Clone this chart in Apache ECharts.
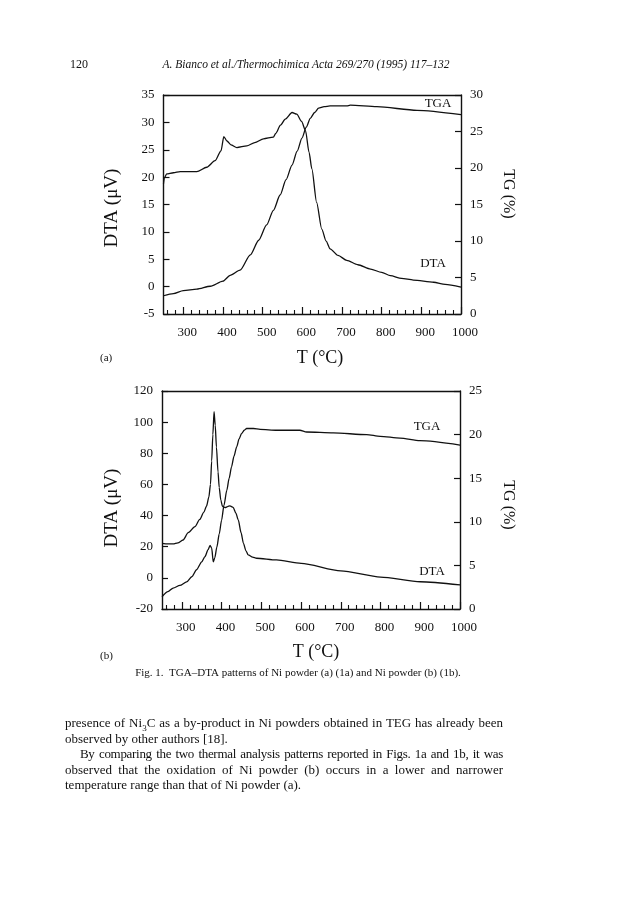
<!DOCTYPE html>
<html><head><meta charset="utf-8">
<script src="https://cdn.jsdelivr.net/npm/echarts@6/dist/echarts.min.js"></script>
<style>
html,body{margin:0;padding:0;background:#fff;}
#chart{position:absolute;left:0;top:0;width:624px;height:912px;}
#para{position:absolute;left:65px;top:715px;width:438px;font-family:"Liberation Serif",serif;font-size:13px;line-height:15.6px;color:#111;}
#para div{white-space:nowrap;}
#para .j{text-align:justify;text-align-last:justify;white-space:normal;}
#para .ind{padding-left:15px;letter-spacing:-0.3px;word-spacing:-1px;}
</style></head>
<body>
<div id="chart"></div>
<div id="para">
<div class="j">presence of Ni<sub style="font-size:9px;line-height:0">3</sub>C as a by-product in Ni powders obtained in TEG has already been</div>
<div>observed by other authors [18].</div>
<div class="j ind">By comparing the two thermal analysis patterns reported in Figs. 1a and 1b, it was</div>
<div class="j">observed that the oxidation of Ni powder (b) occurs in a lower and narrower</div>
<div>temperature range than that of Ni powder (a).</div>
</div>
<script>
// ---- x axis (temperature) ----
var xLabels = [300, 400, 500, 600, 700, 800, 900, 1000];
var xMajorTicks = [300, 400, 500, 600, 700, 800, 900, 1000];
var xMinorTicks = [260, 280, 320, 340, 360, 380, 420, 440, 460, 480, 520, 540, 560, 580,
  620, 640, 660, 680, 720, 740, 760, 780, 820, 840, 860, 880, 920, 940, 960, 980];

// ---- (a) DTA, µV ----
var dtaA_T  = [250, 252, 258, 275, 292, 334, 359, 380, 395, 402, 410, 420, 435, 460, 480, 502, 527, 533, 545, 557, 574, 586, 598, 608, 617, 624, 636, 649, 660, 670, 690, 712, 740, 772, 800, 822, 850, 880, 931, 960, 1000];
var dtaA_uV = [18.8, 19.8, 20.6, 20.8, 21.0, 21.0, 21.8, 23.0, 24.8, 27.4, 26.6, 25.9, 25.4, 25.7, 26.3, 27.0, 27.3, 28.0, 29.5, 30.6, 31.8, 31.5, 30.2, 28.5, 24.5, 21.5, 15.4, 10.5, 8.3, 6.9, 5.7, 4.8, 4.0, 3.2, 2.6, 2.0, 1.5, 1.2, 0.8, 0.4, -0.1];

// ---- (a) TGA, % ----
var tgaA_T  = [250, 275, 300, 334, 368, 400, 418, 443, 469, 490, 510, 527, 544, 559, 574, 587, 599, 610, 620, 631, 641, 655, 670, 712, 721, 788, 889, 1000];
var tgaA_TG = [2.5, 2.8, 3.2, 3.4, 3.8, 4.5, 5.3, 6.0, 8.1, 10.1, 12.2, 14.2, 16.3, 18.4, 20.4, 22.3, 24.1, 25.6, 26.8, 27.6, 28.2, 28.4, 28.5, 28.5, 28.6, 28.4, 27.9, 27.3];

// ---- (b) DTA, µV ----
var dtaB_T  = [250, 265, 278, 290, 303, 316, 333, 345, 355, 362, 368, 372, 375, 378, 381, 384, 387, 391, 394, 398, 402, 409, 415, 421, 429, 436, 442, 449, 455, 461, 467, 478, 488, 538, 600, 700, 800, 900, 1000];
var dtaB_uV = [22.2, 21.8, 21.8, 22.5, 24.3, 29.0, 32.9, 37.5, 42.0, 46.0, 52.0, 60.0, 75.0, 92.0, 106.7, 98.0, 84.0, 68.0, 58.0, 50.0, 46.0, 45.1, 45.8, 46.2, 45.3, 41.5, 37.2, 29.0, 22.2, 17.5, 14.7, 13.3, 12.6, 11.5, 9.3, 4.5, 0.5, -2.5, -4.5];

// ---- (b) TGA, % ----
var tgaB_T  = [250, 265, 278, 295, 312, 325, 337, 350, 358, 366, 371, 375, 379, 383, 388, 394, 400, 406, 413, 419, 425, 431, 438, 444, 450, 457, 463, 480, 497, 539, 597, 614, 681, 765, 799, 849, 899, 1000];
var tgaB_TG = [1.4, 2.0, 2.4, 2.7, 3.1, 3.7, 4.5, 5.4, 6.0, 6.8, 7.3, 7.0, 5.4, 5.9, 7.1, 8.6, 10.2, 11.9, 13.6, 15.0, 16.3, 17.5, 18.6, 19.5, 20.1, 20.5, 20.7, 20.7, 20.6, 20.5, 20.5, 20.3, 20.2, 20.0, 19.8, 19.6, 19.3, 18.8];

function pairs(xs, ys) { return xs.map(function (x, i) { return [x, ys[i]]; }); }

var SERIF = '"Liberation Serif", "DejaVu Serif", serif';
var INK = '#111';

function xAxes(g) {
  return [
    { gridIndex: g, type: 'value', min: 250, max: 1000, position: 'bottom',
      axisLine: { show: true, onZero: false, lineStyle: { color: INK, width: 1.4 } },
      axisTick: { show: true, inside: true, length: 7, customValues: xMajorTicks, lineStyle: { color: INK, width: 1.2 } },
      axisLabel: { show: true, customValues: xLabels, color: INK, fontFamily: SERIF, fontSize: 13, margin: 12,
        padding: [0, 0, 0, 8], formatter: function (v) { return String(v); } },
      splitLine: { show: false } },
    { gridIndex: g, type: 'value', min: 250, max: 1000, position: 'bottom',
      axisLine: { show: false, onZero: false },
      axisTick: { show: true, inside: true, length: 4, customValues: xMinorTicks, lineStyle: { color: INK, width: 1.1 } },
      axisLabel: { show: false }, splitLine: { show: false } },
    { gridIndex: g, type: 'value', min: 250, max: 1000, position: 'top',
      axisLine: { show: true, onZero: false, lineStyle: { color: INK, width: 1.4 } },
      axisTick: { show: false }, axisLabel: { show: false }, splitLine: { show: false } }
  ];
}
function yAxis(g, pos, min, max, interval) {
  return { gridIndex: g, type: 'value', position: pos, min: min, max: max, interval: interval,
    axisLine: { show: true, onZero: false, lineStyle: { color: INK, width: 1.4 } },
    axisTick: { show: true, inside: true, length: 6, lineStyle: { color: INK, width: 1.2 } },
    axisLabel: { color: INK, fontFamily: SERIF, fontSize: 13, margin: 9 },
    splitLine: { show: false } };
}
function line(data, xi, yi) {
  return { type: 'line', data: data, xAxisIndex: xi, yAxisIndex: yi, showSymbol: false, symbol: 'none',
    smooth: 0.25, smoothMonotone: 'x', lineStyle: { color: INK, width: 1.3 }, silent: true };
}
function txt(x, y, s, size, extra) {
  var st = { text: s, fill: INK, font: (extra && extra.italic ? 'italic ' : '') + size + 'px ' + SERIF,
    align: (extra && extra.align) || 'center', verticalAlign: 'middle' };
  return { type: 'text', x: x, y: y, rotation: (extra && extra.rot) || 0, style: st, silent: true };
}

var chart = echarts.init(document.getElementById('chart'), null, { renderer: 'canvas' });
chart.setOption({
  animation: false,
  backgroundColor: '#fff',
  grid: [
    { left: 163.5, top: 95, width: 297.5, height: 219 },
    { left: 162, top: 391, width: 298, height: 218 }
  ],
  xAxis: xAxes(0).concat(xAxes(1)),
  yAxis: [
    yAxis(0, 'left', -5, 35, 5), yAxis(0, 'right', 0, 30, 5),
    yAxis(1, 'left', -20, 120, 20), yAxis(1, 'right', 0, 25, 5)
  ],
  series: [
    line(pairs(dtaA_T, dtaA_uV), 0, 0),
    line(pairs(tgaA_T, tgaA_TG), 0, 1),
    line(pairs(dtaB_T, dtaB_uV), 3, 2),
    line(pairs(tgaB_T, tgaB_TG), 3, 3)
  ],
  graphic: [
    txt(70, 65, '120', 12, { align: 'left' }),
    txt(306, 65, 'A. Bianco et al./Thermochimica Acta 269/270 (1995) 117\u2013132', 11.5, { italic: true }),
    txt(438, 104, 'TGA', 13), txt(433, 264, 'DTA', 13),
    txt(427, 427, 'TGA', 13), txt(432, 572, 'DTA', 13),
    txt(112, 208, 'DTA (\u03bcV)', 19, { rot: Math.PI / 2 }),
    txt(508, 194, 'TG (%)', 16, { rot: -Math.PI / 2 }),
    txt(320, 358, 'T (\u00b0C)', 18),
    txt(100, 358, '(a)', 11, { align: 'left' }),
    txt(112, 508, 'DTA (\u03bcV)', 19, { rot: Math.PI / 2 }),
    txt(508, 505, 'TG (%)', 16, { rot: -Math.PI / 2 }),
    txt(316, 652, 'T (\u00b0C)', 18),
    txt(100, 656, '(b)', 11, { align: 'left' }),
    txt(298, 673, 'Fig. 1.  TGA\u2013DTA patterns of Ni powder (a) (1a) and Ni powder (b) (1b).', 11)
  ]
});
</script>
</body></html>
